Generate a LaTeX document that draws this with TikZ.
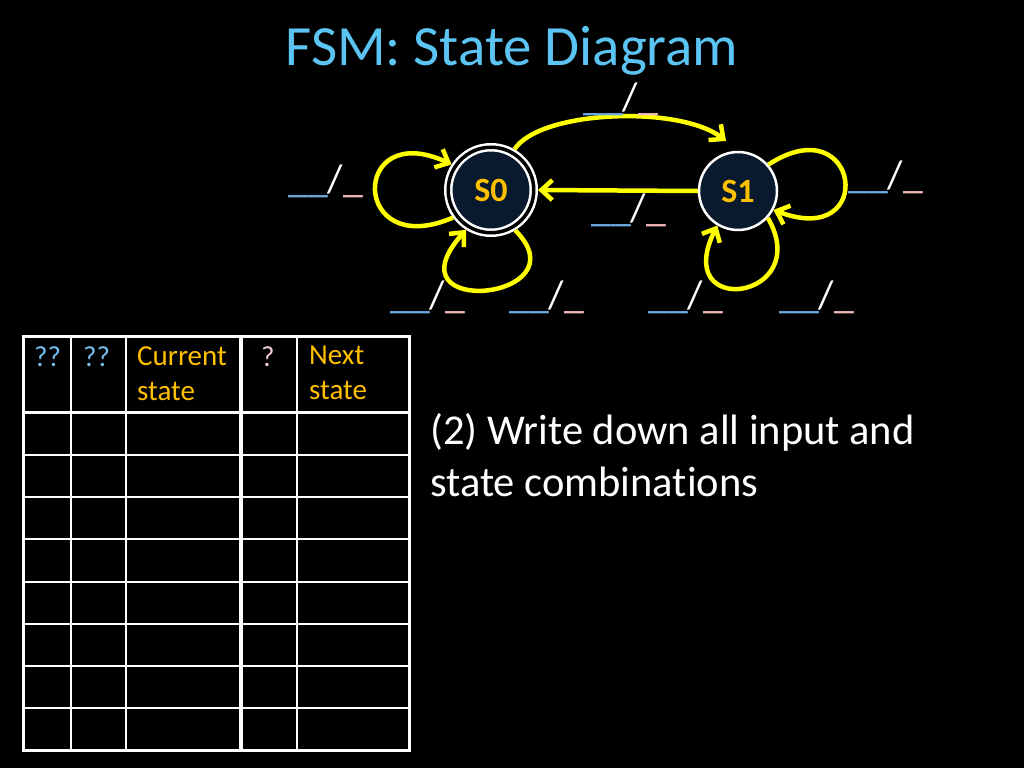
\documentclass[tikz,border=0pt]{standalone}
\usepackage{fontspec}
\setmainfont{Carlito}[Ligatures=NoCommon]
\usetikzlibrary{arrows.meta}

\definecolor{titleblue}{RGB}{91,196,242}
\definecolor{headblue}{RGB}{118,188,238}
\definecolor{inblue}{RGB}{110,172,226}
\definecolor{outpink}{RGB}{244,186,186}
\definecolor{headpink}{RGB}{240,200,212}
\definecolor{stategold}{RGB}{255,192,0}
\definecolor{statefill}{RGB}{10,26,46}
\definecolor{arcyellow}{RGB}{255,255,0}

\newcommand{\io}{{\color{inblue}\_\_}/{\color{outpink}\_}}

\tikzset{
  ->/.style={draw=arcyellow,line width=4.5pt,-{Straight Barb[length=11pt,width=20pt]}},
  state/.style={circle,fill=statefill,draw=white,line width=2.5pt,minimum size=78pt,
    inner sep=0pt,text=stategold,font=\fontsize{34}{40}\selectfont\bfseries},
  accept/.style={state,double=black,double distance=3.5pt,minimum size=85.5pt,outer sep=4.25pt},
  iolabel/.style={anchor=base west,inner sep=0pt,text=white,font=\fontsize{39.8}{48}\selectfont},
  head/.style={anchor=north west,inner sep=0pt,align=left,font=\fontsize{29}{35}\selectfont},
  tablerule/.style={draw=white,line width=1.5pt}
}

\begin{document}
\begin{tikzpicture}[x=1pt,y=-1pt]
    \fill [black] (0,0) rectangle (1024,768);
    \useasboundingbox (0,0) rectangle (1024,768);
    \node [anchor=base,inner sep=0pt,text=titleblue,font=\fontsize{56.9}{68}\selectfont] (title) at (512,66) {FSM: State Diagram};

    % states
    \node [accept] (S0) at (491,190) {S0};
    \node [state]  (S1) at (738,191) {S1};
    \coordinate (S1top) at (726,141);

    % transitions
    \draw [->] (S0.60) .. controls (540,110) and (680,105) .. (S1top);
    \draw [->] (S1.west) -- (S0.east);
    \draw [->] (S0.216) .. controls (350,262) and (350,117) .. (S0.147);
    \draw [->] (S0.301) .. controls (585,300) and (385,320) .. (S0.238);
    \draw [->] (S1.41)  .. controls (860,105) and (878,250) .. (S1.332);
    \draw [->] (S1.318) .. controls (815,300) and (670,320) .. (S1.239);

    % input/output blanks
    \node [iolabel] (l01)  at (583,110) {\io};
    \node [iolabel] (l10)  at (591,221) {\io};
    \node [iolabel] (l00a) at (288,192) {\io};
    \node [iolabel] (l00b) at (390,308) {\io};
    \node [iolabel] (l11a) at (848,188) {\io};
    \node [iolabel] (l11b) at (779,308) {\io};
    \node [iolabel] (l0x)  at (509,308) {\io};
    \node [iolabel] (l1x)  at (648,308) {\io};

    % state transition table
    \foreach \y in {455,497,539,582,624,666,708}
        \draw [tablerule] (23,\y) -- (409,\y);
    \foreach \x in {71,126,297}
        \draw [tablerule] (\x,336) -- (\x,750);
    \draw [tablerule,line width=3.5pt] (241,336) -- (241,750);
    \draw [tablerule,line width=3pt] (23,412) -- (409,412);
    \draw [tablerule,line width=3pt] (23,336) rectangle (409,750);

    \node [head,text=headblue]  (in1)  at (34,346)  {??};
    \node [head,text=headblue]  (in2)  at (83,346)  {??};
    \node [head,text=stategold] (cur)  at (137,346) {Current\\state};
    \node [head,text=headpink]  (out)  at (261,346) {?};
    \node [head,text=stategold] (next) at (309,346) {Next\\state};

    \node [anchor=north west,inner sep=0pt,align=left,text=white,
           font=\fontsize{42.5}{52}\selectfont] (task) at (430,413)
           {(2) Write down all input and\\state combinations};
\end{tikzpicture}
\end{document}
